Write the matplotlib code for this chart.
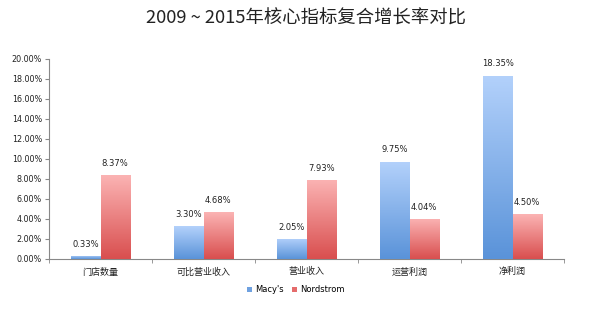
import matplotlib
matplotlib.use("Agg")
import matplotlib.pyplot as plt
from matplotlib.colors import LinearSegmentedColormap
from matplotlib.patches import Patch
import numpy as np

plt.rcParams['font.family'] = ['Noto Sans CJK SC', 'DejaVu Sans']

# data
categories = ["门店数量", "可比营业收入", "营业收入", "运营利润", "净利润"]
macys = [0.33, 3.30, 2.05, 9.75, 18.35]
nordstrom = [8.37, 4.68, 7.93, 4.04, 4.50]
series_names = ["Macy's", "Nordstrom"]
yticks = np.arange(0, 20.01, 2)

fig = plt.figure(figsize=(6.11, 3.14), dpi=100)
ax = fig.add_axes([49/611, 1-259/314, 515/611, 200/314])

blue_cm = LinearSegmentedColormap.from_list("b", ["#5a93d9", "#b3d1fb"])
red_cm = LinearSegmentedColormap.from_list("r", ["#d94f4f", "#fbb3b3"])
grad = np.linspace(0, 1, 100).reshape(-1, 1)

x = np.arange(len(categories))
w = 0.285

def gradient_bars(xs, vals, cmap, color):
  # flat bar for the shape, gradient image clipped to it
  bars = ax.bar(xs, vals, width=w, color=color, edgecolor='none', zorder=2)
  for b, v in zip(bars, vals):
    im = ax.imshow(grad, cmap=cmap, aspect='auto', origin='lower',
                   extent=[b.get_x(), b.get_x()+b.get_width(), 0, v], zorder=3)
    im.set_clip_path(b)
  return bars

gradient_bars(x - w/2, macys, blue_cm, "#80aee9")
gradient_bars(x + w/2, nordstrom, red_cm, "#ec8080")

for xi, v in zip(x - w/2, macys):
  ax.text(xi, v + 0.7, "%.2f%%" % v, ha='center', va='bottom', fontsize=6, family=['DejaVu Sans'], color='#222222')
for xi, v in zip(x + w/2, nordstrom):
  ax.text(xi, v + 0.7, "%.2f%%" % v, ha='center', va='bottom', fontsize=6, family=['DejaVu Sans'], color='#222222')

ax.set_xlim(-0.5, len(categories) - 0.5)
ax.set_ylim(0, 20)
ax.set_yticks(yticks)
ax.set_yticklabels(["%.2f%%" % t for t in yticks], fontsize=5.8, family=['DejaVu Sans'], color='#222222')
ax.set_xticks(x)
ax.set_xticklabels(categories, fontsize=6.5, color='#222222')
ax.set_xticks(np.arange(-0.5, len(categories)), minor=True)
ax.tick_params(axis='x', which='major', length=0, pad=6)
ax.tick_params(axis='x', which='minor', length=3, color='#888888', direction='out')
ax.tick_params(axis='y', length=3, color='#888888', pad=2)
for s in ['top', 'right']:
  ax.spines[s].set_visible(False)
ax.spines['left'].set_color('#888888')
ax.spines['bottom'].set_color('#888888')
ax.spines['left'].set_linewidth(0.8)
ax.spines['bottom'].set_linewidth(0.8)

fig.suptitle("2009 ~ 2015年核心指标复合增长率对比", y=0.97, fontsize=13.2, color='#222222')

handles = [Patch(facecolor="#6fa1e0"), Patch(facecolor="#e56c6c")]
fig.legend(handles, series_names, loc='center', bbox_to_anchor=(296/611, 1-290/314),
           ncol=2, frameon=False, handlelength=0.6, handleheight=0.6,
           handletextpad=0.4, columnspacing=1.0, prop={'family': ['DejaVu Sans'], 'size': 6})

fig.savefig("out.png", dpi=100)
